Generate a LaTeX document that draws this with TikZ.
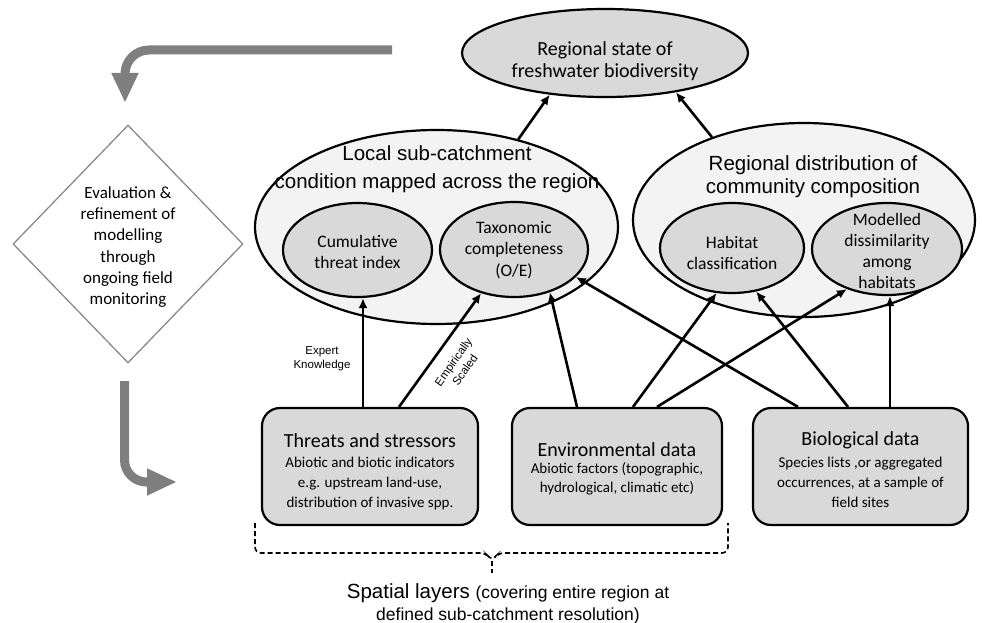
\documentclass[tikz,border=0pt]{standalone}
\usepackage{fontspec}
\setmainfont{Carlito}
\newfontfamily\arialf{Liberation Sans}
\usetikzlibrary{shapes.geometric,arrows.meta,calc}
\definecolor{boxgray}{HTML}{D9D9D9}
\definecolor{biggray}{HTML}{F3F3F3}
\definecolor{flowgray}{HTML}{7F7F7F}
\definecolor{diagray}{HTML}{8A8A8A}
\begin{document}
\begin{tikzpicture}[x=1pt,y=-1pt,
  bigell/.style={ellipse,draw,line width=2.2pt,fill=biggray,inner sep=0pt},
  smallell/.style={ellipse,draw,line width=2.2pt,fill=boxgray,inner sep=0pt},
  databox/.style={rectangle,rounded corners=18pt,draw,line width=2.2pt,fill=boxgray,minimum width=#1,minimum height=117pt,inner sep=0pt},
  arr/.style={line width=2.6pt,-{Latex[length=10pt,width=9pt]}},
  garr/.style={line width=9pt,flowgray,rounded corners=24pt,-{Triangle[length=30pt,width=25pt]}},
  cal/.style={font=\fontsize{17.5}{21.3}\selectfont,align=center,inner sep=0pt},
  boxbody/.style={font=\fontsize{15}{20}\selectfont,align=center,inner sep=0pt},
  bigtxt/.style={font=\arialf\fontsize{20.5}{28}\selectfont,align=center,inner sep=0pt},
  boxtitle/.style={font=\fontsize{20}{24}\selectfont,inner sep=0pt},
  lbl/.style={font=\arialf\fontsize{11.5}{14}\selectfont,align=center,inner sep=0pt}
]
\useasboundingbox (0,0) rectangle (982,623);

% top ellipse
\node[smallell,minimum width=286pt,minimum height=88pt] (top) at (605,53) {};
\node[font=\fontsize{20}{20}\selectfont,align=center,inner sep=0pt] (toptxt) at (605,61) {Regional state of\\[2pt]freshwater biodiversity};

% big ellipses
\node[bigell,minimum width=363pt,minimum height=194pt] (L) at (436.5,227) {};
\node[bigell,minimum width=342pt,minimum height=194pt] (R) at (804,220) {};
\node[bigtxt] (Ltxt) at (437,169) {Local sub-catchment\\condition mapped across the region};
\node[bigtxt,font=\arialf\fontsize{20.5}{23}\selectfont] (Rtxt) at (813,176.5) {Regional distribution of\\community composition};

% small ellipses
\node[smallell,minimum width=149pt,minimum height=94pt] (cum) at (357.5,250) {};
\node[cal] (cumtxt) at (357.5,252) {Cumulative\\threat index};
\node[smallell,minimum width=148pt,minimum height=95pt] (tax) at (514,249.5) {};
\node[cal] (taxtxt) at (514,250) {Taxonomic\\completeness\\(O/E)};
\node[smallell,minimum width=144pt,minimum height=90pt] (hab) at (732,248) {};
\node[cal] (habtxt) at (732,253) {Habitat\\classification};
\node[smallell,minimum width=150pt,minimum height=92pt] (mod) at (887,249) {};
\node[cal] (modtxt) at (887,251) {Modelled\\dissimilarity\\among\\habitats};

% data boxes
\node[databox=216pt] (thr) at (370,466.5) {};
\node[databox=210pt] (env) at (617,466.5) {};
\node[databox=215pt] (bio) at (860.5,466.5) {};
\node[boxtitle] (thrT) at (370,441) {Threats and stressors};
\node[boxbody] (thrB) at (370,483) {Abiotic and biotic indicators\\e.g. upstream land-use,\\distribution of invasive spp.};
\node[boxtitle] (envT) at (617,450) {Environmental data};
\node[boxbody,font=\fontsize{15}{18.5}\selectfont] (envB) at (617,479) {Abiotic factors (topographic,\\hydrological, climatic etc)};
\node[boxtitle] (bioT) at (860.5,440) {Biological data};
\node[boxbody] (bioB) at (860.5,482) {Species lists ,or aggregated\\occurrences, at a sample of\\field sites};

% arrows up to the top
\draw[arr] (L.47) -- (top.217.6);
\draw[arr] (R.138) -- (top.331.3);

% arrows from data boxes
\coordinate (t1) at ([xshift=-7pt]thr.north);
\draw[arr] (t1) -- (t1 |- cum.south);
\draw[arr] ([xshift=29pt]thr.north) -- (tax.233.7);
\draw[arr] ([xshift=-40pt]env.north) -- (tax.310.3);
\draw[arr] ([xshift=-62.5pt]bio.north) -- (tax.336.6);
\draw[arr] ([xshift=16pt]env.north) -- (hab.251.6);
\draw[arr] ([xshift=40pt]env.north) -- (mod.225.7);
\draw[arr] ([xshift=-12.5pt]bio.north) -- (hab.299.6);
\coordinate (b4) at ([xshift=29.5pt]bio.north);
\draw[arr] (b4) -- (b4 |- mod.south);

% labels
\node[lbl] (expert) at (322,359) {Expert\\Knowledge};
\node[lbl,rotate=55] (emp) at (459,366) {Empirically\\Scaled};

% diamond
\node[diamond,draw=diagray,line width=1.3pt,minimum width=230pt,minimum height=238pt,inner sep=0pt] (dia) at (128,244) {};
\node[cal,font=\fontsize{17}{21.3}\selectfont] (diatxt) at (128,247) {Evaluation \&\\refinement of\\modelling\\through\\ongoing field\\monitoring};

% grey flow arrows
\coordinate (g1s) at (392,50);
\coordinate (g1e) at (125,103);
\draw[garr] (g1s) -| (g1e);
\coordinate (g2s) at (124.5,381);
\coordinate (g2e) at (177,482);
\draw[garr,rounded corners=22pt] (g2s) |- (g2e);

% spatial layers brace
\coordinate (brL) at (255,523);
\coordinate (brR) at (728,523);
\coordinate (brM) at (492,561);
\draw[line width=1.6pt,dash pattern=on 5pt off 3pt,rounded corners=6pt]
  (brL) -- (255,553) -- (486,553) -- (brM) -- (498,553) -- (728,553) -- (brR);
\draw[line width=1.6pt,dash pattern=on 5pt off 3pt] (brM) -- (492,573);
\node[font=\arialf\fontsize{20.5}{22}\selectfont,align=center,inner sep=0pt] (spat) at (508,604) {Spatial layers {\fontsize{17.5}{22}\selectfont(covering entire region at}\\{\fontsize{17.5}{22}\selectfont defined sub-catchment resolution)}};
\end{tikzpicture}
\end{document}
